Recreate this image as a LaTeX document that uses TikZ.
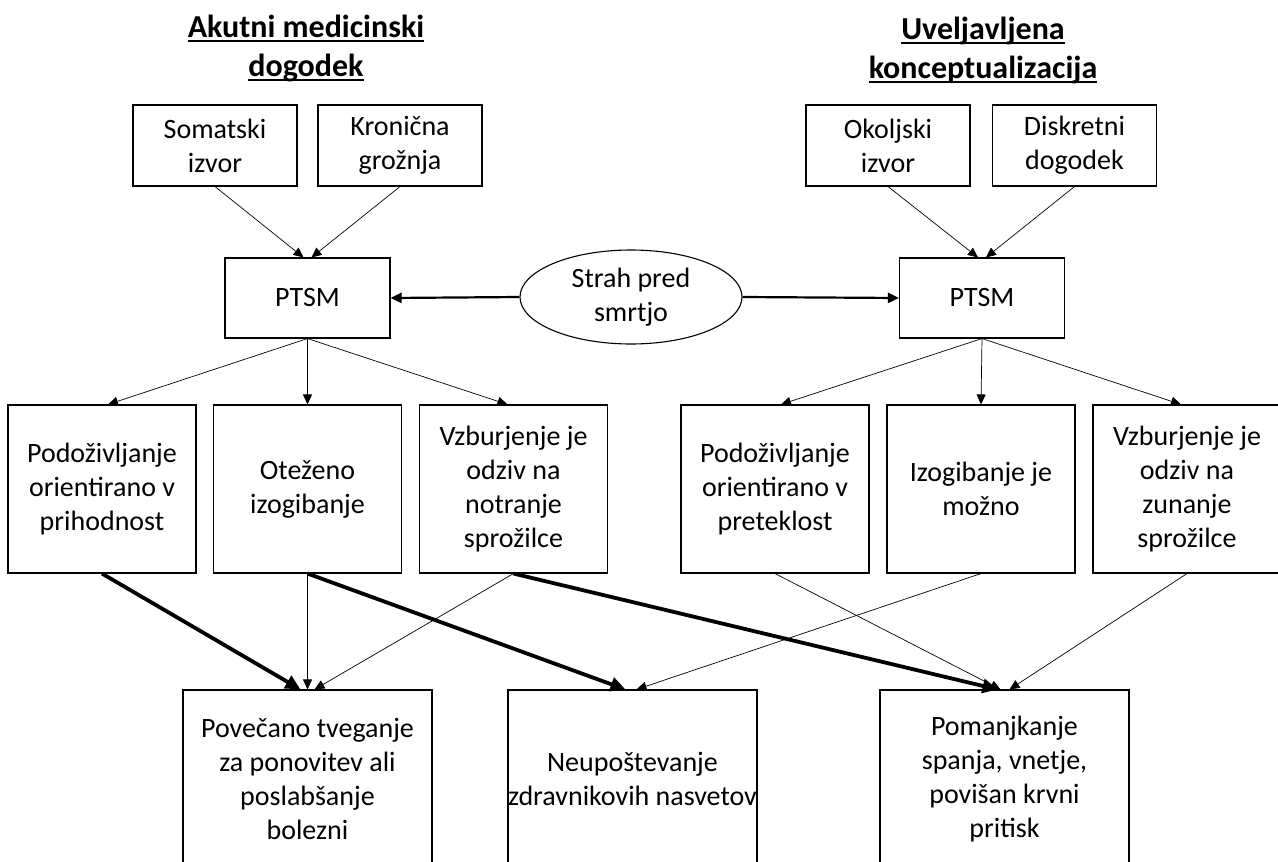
\documentclass[tikz,border=0pt]{standalone}
\usepackage{fontspec}
\setmainfont{Carlito}
\usetikzlibrary{arrows.meta,shapes.geometric}

\newcommand{\titleul}[1]{\leavevmode\setbox0\hbox{#1}\rlap{\rule[-5pt]{\wd0}{2.4pt}}\box0}

\begin{document}
\begin{tikzpicture}[x=1pt,y=-1pt,
        box node/.style={rectangle,draw=black,line width=1.1pt,align=center,inner sep=0pt,font=\fontsize{28}{34}\selectfont},
        title node/.style={align=center,font=\fontsize{32}{39}\selectfont\bfseries},
        thin line/.style={-{Triangle[length=10pt,width=9pt]},line width=0.7pt},
        mid line/.style={-{Triangle[length=11pt,width=10pt]},line width=2.2pt},
        thick line/.style={-{Triangle[length=15pt,width=14pt]},line width=3.8pt}]

    \useasboundingbox (0,0) rectangle (1278,862);

    % titles
    \node[title node] (tA) at (306,48) {\titleul{Akutni medicinski}\\\titleul{dogodek}};
    \node[title node] (tB) at (983,50) {\titleul{Uveljavljena}\\\titleul{konceptualizacija}};

    % sources
    \node[box node, minimum width=164, minimum height=81] (som) at (215,145.5) {Somatski\\izvor};
    \node[box node, minimum width=164, minimum height=81] (kron) at (400,145.5) {Kronična\\grožnja};
    \node[box node, minimum width=164, minimum height=81] (okol) at (888,145.5) {Okoljski\\izvor};
    \node[box node, minimum width=164, minimum height=81] (disk) at (1074.5,145.5) {Diskretni\\dogodek};

    \node[box node, minimum width=165, minimum height=80] (ptsmA) at (307.5,298) {PTSM};
    \node[box node, minimum width=165, minimum height=80] (ptsmB) at (982,298) {PTSM};
    \node[box node, ellipse, minimum width=222, minimum height=94] (strah) at (631,297) {Strah pred\\smrtjo};

    % symptoms
    \node[box node, minimum width=188, minimum height=168] (podA) at (102,489) {Podoživljanje\\orientirano v\\prihodnost};
    \node[box node, minimum width=188, minimum height=168] (izoA) at (307.5,489) {Oteženo\\izogibanje};
    \node[box node, minimum width=188, minimum height=168] (vzbA) at (513.5,489) {Vzburjenje je\\odziv na\\notranje\\sprožilce};
    \node[box node, minimum width=188, minimum height=168] (podB) at (775,489) {Podoživljanje\\orientirano v\\preteklost};
    \node[box node, minimum width=188, minimum height=168] (izoB) at (981,489) {Izogibanje je\\možno};
    \node[box node, minimum width=188, minimum height=168] (vzbB) at (1187,489) {Vzburjenje je\\odziv na\\zunanje\\sprožilce};

    % outcomes
    \node[box node, minimum width=249, minimum height=178] (tveg) at (307.5,779) {Povečano tveganje\\za ponovitev ali\\poslabšanje\\bolezni};
    \node[box node, minimum width=249, minimum height=178] (neup) at (632.5,779) {Neupoštevanje\\zdravnikovih nasvetov};
    \node[box node, minimum width=249, minimum height=178] (spanje) at (1004.5,779) {Pomanjkanje\\spanja, vnetje,\\povišan krvni\\pritisk};

    \path[thin line]
    (som.south) edge ([xshift=-4pt]ptsmA.north)
    (kron.south) edge ([xshift=4pt]ptsmA.north)
    (okol.south) edge ([xshift=-4pt]ptsmB.north)
    (disk.south) edge ([xshift=4pt]ptsmB.north)
    (ptsmA.south) edge ([xshift=6pt]podA.north)
    (ptsmA.south) edge (izoA.north)
    (ptsmA.south) edge ([xshift=-6pt]vzbA.north)
    (ptsmB.south) edge ([xshift=6pt]podB.north)
    (ptsmB.south) edge (izoB.north)
    (ptsmB.south) edge ([xshift=-6pt]vzbB.north);

    \path[mid line]
    (strah.west) edge (ptsmA.east)
    (strah.east) edge (ptsmB.west);

    \path[thin line]
    (izoA.south) edge (tveg.north)
    (vzbA.south) edge ([xshift=7pt]tveg.north)
    (izoB.south) edge ([xshift=4pt]neup.north)
    (podB.south) edge ([xshift=-4pt]spanje.north)
    (vzbB.south) edge ([xshift=5pt]spanje.north);

    \path[thick line]
    (podA.south) edge ([xshift=-7pt]tveg.north)
    (izoA.south) edge ([xshift=-7pt]neup.north)
    (vzbA.south) edge ([xshift=-7pt]spanje.north);

\end{tikzpicture}
\end{document}
